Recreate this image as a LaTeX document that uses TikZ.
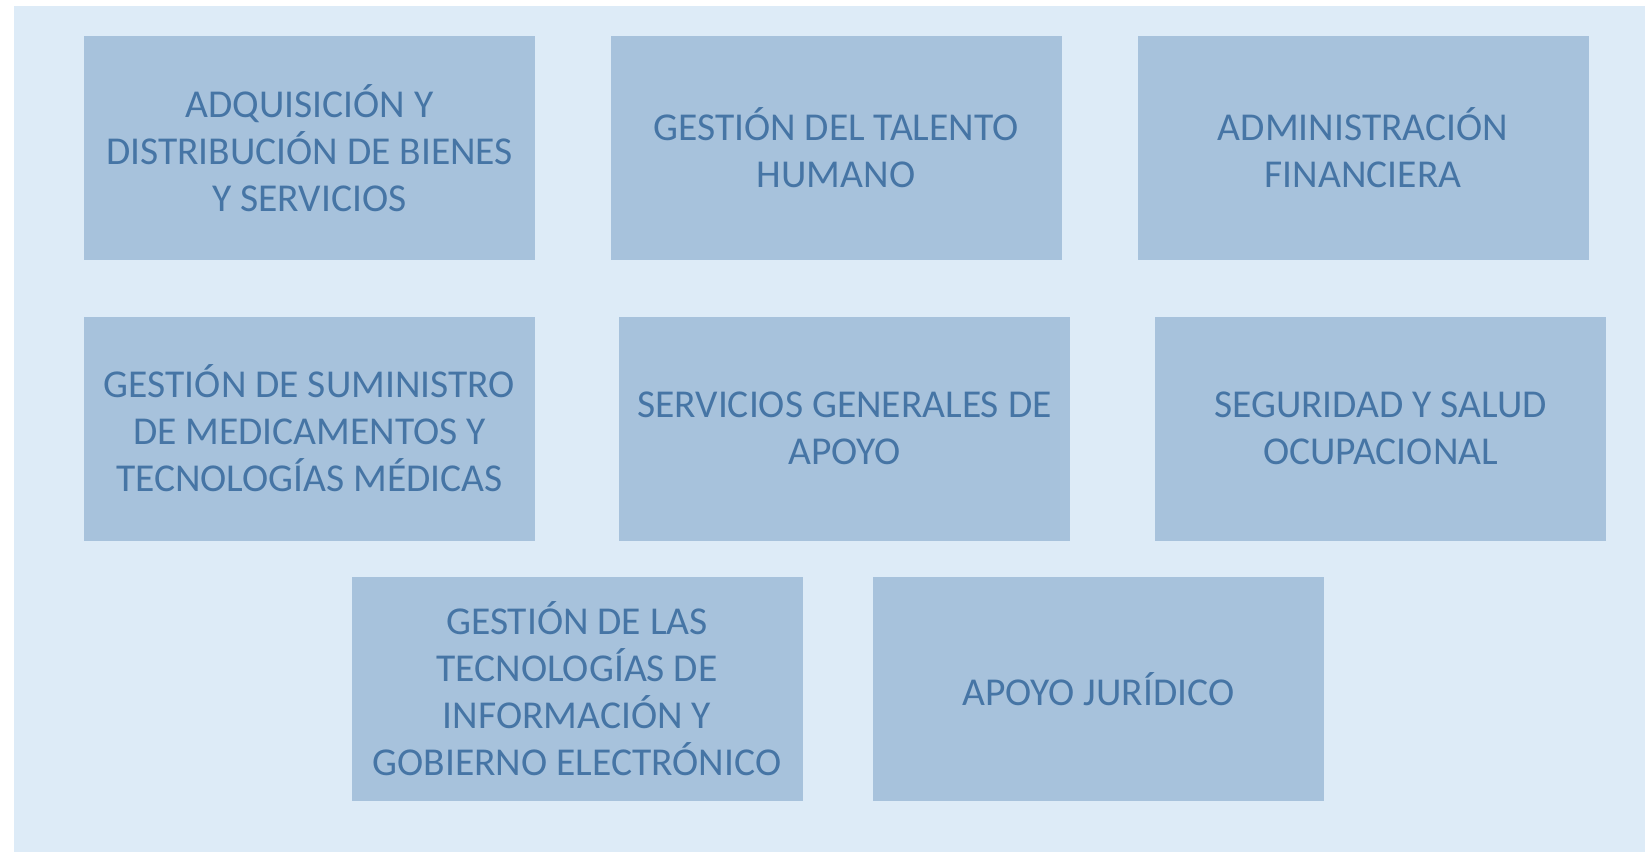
\documentclass[tikz,border=0pt]{standalone}
\usepackage{fontspec}
\setmainfont{Carlito}
\definecolor{panelbg}{HTML}{DDEBF7}
\definecolor{boxfill}{HTML}{A7C2DC}
\definecolor{boxtext}{HTML}{4675A5}

\begin{document}
\begin{tikzpicture}[x=1pt, y=-1pt, area/.style={rectangle, fill=boxfill, minimum width=451pt, minimum height=224pt, inner sep=0pt, align=center, text=boxtext, font=\fontsize{39.5}{47}\selectfont}]
      \useasboundingbox (0,0) rectangle (1645,852);
      \fill[panelbg] (14,6) rectangle (1645,852);

      % first row
      \node[area] (adq) at (309.5, 148) {ADQUISICIÓN Y\\DISTRIBUCIÓN DE BIENES\\Y SERVICIOS};
      \node[area] (tal) at (836, 148) {GESTIÓN DEL TALENTO\\HUMANO};
      \node[area] (fin) at (1363, 148) {ADMINISTRACIÓN\\FINANCIERA};

      % second row
      \node[area] (sum) at (309.5, 428.5) {GESTIÓN DE SUMINISTRO\\DE MEDICAMENTOS Y\\TECNOLOGÍAS MÉDICAS};
      \node[area] (ser) at (844.5, 428.5) {SERVICIOS GENERALES DE\\APOYO};
      \node[area] (seg) at (1380.6, 428.5) {SEGURIDAD Y SALUD\\OCUPACIONAL};

      % third row
      \node[area] (tic) at (577, 688.7) {GESTIÓN DE LAS\\TECNOLOGÍAS DE\\INFORMACIÓN Y\\GOBIERNO ELECTRÓNICO};
      \node[area] (jur) at (1098.4, 688.7) {APOYO JURÍDICO};
    \end{tikzpicture}
\end{document}
